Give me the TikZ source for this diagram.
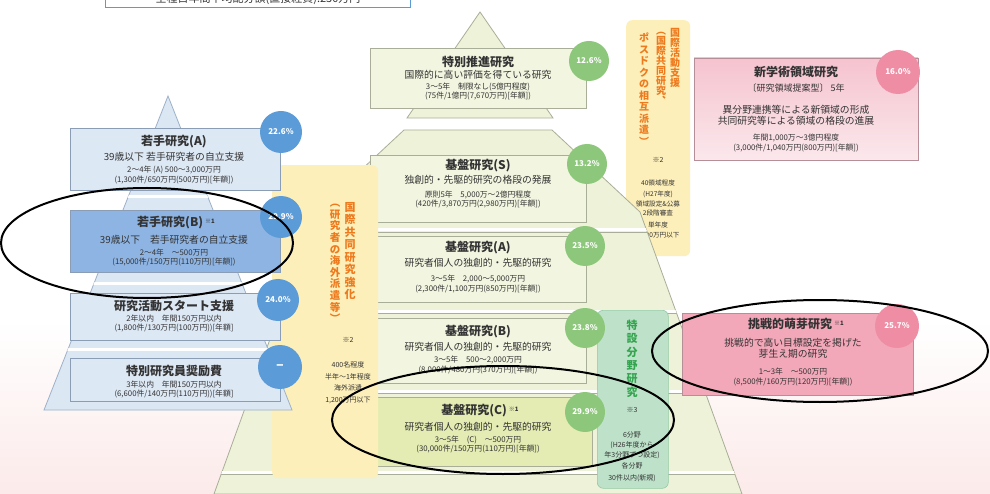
\documentclass[tikz,border=0pt]{standalone}
\usepackage{fontspec}
\newfontfamily\cjk{Noto Sans CJK JP}
\usetikzlibrary{shapes.geometric}
\definecolor{pyrL}{HTML}{DCE7F4}
\definecolor{pyrLd}{HTML}{9DB1C9}
\definecolor{boxL}{HTML}{DDE8F5}
\definecolor{boxLd}{HTML}{8A9DB5}
\definecolor{boxLB}{HTML}{8EB4E3}
\definecolor{pyrM}{HTML}{EEF2D8}
\definecolor{pyrMd}{HTML}{A9AE98}
\definecolor{boxM}{HTML}{F2F5DF}
\definecolor{boxMC}{HTML}{E4ECB3}
\definecolor{circB}{HTML}{5B9BD8}
\definecolor{circG}{HTML}{8DC77B}
\definecolor{circP}{HTML}{EE8DA4}
\definecolor{bandY}{HTML}{FDEFBA}
\definecolor{txtO}{HTML}{EE7A1E}
\definecolor{bandG}{HTML}{BDE2C9}
\definecolor{bandGd}{HTML}{93C9A5}
\definecolor{txtG}{HTML}{34A54F}
\definecolor{pinkA}{HTML}{F3A8B9}
\definecolor{pinkB1}{HTML}{F5C3CF}
\definecolor{pinkB2}{HTML}{FBE8EC}
\definecolor{pinkD}{HTML}{B58E98}
\definecolor{txtc}{HTML}{333333}
\definecolor{hdrB}{HTML}{5B9BD5}
\definecolor{bgP}{HTML}{FCEAEA}
\begin{document}
\begin{tikzpicture}[x=1pt,y=-1pt,
  every node/.style={inner sep=0pt},
  lbox/.style={draw=boxLd, line width=0.8, fill=boxL, anchor=north west},
  mbox/.style={draw=pyrMd, line width=0.8, fill=boxM, anchor=north west},
  ttl/.style={text=txtc, font=\cjk\bfseries\fontsize{12}{12}\selectfont},
  sub/.style={text=txtc, font=\cjk\fontsize{9.8}{10}\selectfont},
  det/.style={text=txtc, font=\cjk\fontsize{7.8}{8}\selectfont},
  sml/.style={text=txtc, font=\cjk\fontsize{7}{7}\selectfont},
  pc/.style={circle, minimum size=42, fill=#1, text=white, font=\cjk\bfseries\fontsize{8}{8}\selectfont},
  vt/.style={align=center, anchor=north},
  ell/.style={ellipse, draw=black, line width=2}]
\useasboundingbox (0,0) rectangle (990,494);
\fill[white] (0,0) rectangle (990,494);
\shade[top color=white, bottom color=bgP] (0,320) rectangle (990,494);

% header
\draw[hdrB, line width=1, fill=white] (105,-10) rectangle (410,8);
\node[text=txtc, font=\cjk\fontsize{11}{11}\selectfont] (hdr) at (258,-1) {全種目年間平均配分額(直接経費):230万円};

% international activity band (behind pyramid)
\node[fill=bandY, rounded corners=6, minimum width=64, minimum height=236, anchor=north west] (iband) at (626,20) {};
\node[vt, text=txtO, font=\cjk\bfseries\fontsize{10}{10}\selectfont] (iv1) at (675,28) {国\\際\\活\\動\\支\\援};
\node[vt, text=txtO, font=\cjk\bfseries\fontsize{10}{10}\selectfont] (iv2) at (661,32) {︵\\国\\際\\共\\同\\研\\究\\︑};
\node[vt, text=txtO, font=\cjk\bfseries\fontsize{10}{11.5}\selectfont] (iv3) at (644,33) {ポ\\ス\\ド\\ク\\の\\相\\互\\派\\遣\\︶};
\node[sml] (in0) at (658,160) {※2};
\node[font=\cjk\fontsize{6.6}{6.6}\selectfont, text=txtc] (in1) at (658,183) {40領域程度};
\node[font=\cjk\fontsize{6.6}{6.6}\selectfont, text=txtc] (in2) at (658,194) {(H27年度)};
\node[font=\cjk\fontsize{6.6}{6.6}\selectfont, text=txtc] (in3) at (658,204) {領域設定\&公募};
\node[font=\cjk\fontsize{6.6}{6.6}\selectfont, text=txtc] (in4) at (658,213) {2段階審査};
\node[font=\cjk\fontsize{6.6}{6.6}\selectfont, text=txtc] (in5) at (658,225) {単年度};
\node[font=\cjk\fontsize{6.6}{6.6}\selectfont, text=txtc] (in6) at (658,236) {1,500万円以下};

% main pyramid
\filldraw[fill=pyrM, draw=pyrMd, line width=0.8] (480,12) -- (553,118) -- (407,118) -- cycle;
\filldraw[fill=pyrM, draw=pyrMd, line width=0.8] (404,130) -- (552,130) -- (640,212) -- (742,494) -- (214,494) -- (316,212) -- cycle;
\begin{scope}
\clip (404,130) -- (552,130) -- (640,212) -- (742,494) -- (214,494) -- (316,212) -- cycle;
\draw[white, line width=3] (200,230) -- (760,230) (200,311) -- (760,311) (200,391) -- (760,391) (200,472) -- (760,472);
\draw[pyrMd, line width=0.6] (200,232) -- (760,232) (200,313) -- (760,313) (200,393) -- (760,393) (200,474) -- (760,474);
\end{scope}

% main boxes
\node[mbox, minimum width=216, minimum height=60] (mT) at (370,48) {};
\node[mbox, minimum width=216, minimum height=67] (mS) at (370,155) {};
\node[mbox, minimum width=216, minimum height=66] (mA) at (370,236) {};
\node[mbox, minimum width=216, minimum height=65] (mB) at (370,318) {};
\node[mbox, fill=boxMC, minimum width=224, minimum height=69] (mC) at (368,397) {};

\node[ttl] (mT1) at (478,62) {特別推進研究};
\node[sub] (mT2) at (478,75) {国際的に高い評価を得ている研究};
\node[det] (mT3) at (478,87) {3〜5年　制限なし(5億円程度)};
\node[det] (mT4) at (478,96) {(75件/1億円(7,670万円)[年額])};

\node[ttl] (mS1) at (478,166) {基盤研究(S)};
\node[sub] (mS2) at (478,180) {独創的・先駆的研究の格段の発展};
\node[det] (mS3) at (478,195) {原則5年　5,000万〜2億円程度};
\node[det] (mS4) at (478,204) {(420件/3,870万円(2,980万円)[年額])};

\node[ttl] (mA1) at (478,248) {基盤研究(A)};
\node[sub] (mA2) at (478,263) {研究者個人の独創的・先駆的研究};
\node[det] (mA3) at (478,279) {3〜5年　2,000〜5,000万円};
\node[det] (mA4) at (478,289) {(2,300件/1,100万円(850万円)[年額])};

\node[ttl] (mB1) at (478,332) {基盤研究(B)};
\node[sub] (mB2) at (478,347) {研究者個人の独創的・先駆的研究};
\node[det] (mB3) at (478,360) {3〜5年　500〜2,000万円};
\node[det] (mB4) at (478,370) {(8,000件/480万円(370万円)[年額])};

\node[ttl] (mC1) at (480,411) {基盤研究(C)\,\raisebox{3pt}{\fontsize{6}{6}\selectfont ※1}};
\node[sub] (mC2) at (478,427) {研究者個人の独創的・先駆的研究};
\node[det] (mC3) at (478,440) {3〜5年　(C)　〜500万円};
\node[det] (mC4) at (478,449) {(30,000件/150万円(110万円)[年額])};

% international joint research band
\node[fill=bandY, rounded corners=6, minimum width=106, minimum height=313, anchor=north west] (kband) at (272,165) {};
\node[vt, text=txtO, font=\cjk\bfseries\fontsize{11}{12.5}\selectfont] (kv1) at (350,202) {国\\際\\共\\同\\研\\究\\強\\化};
\node[vt, text=txtO, font=\cjk\bfseries\fontsize{10.5}{11.6}\selectfont] (kv2) at (335,204) {︵\\研\\究\\者\\の\\海\\外\\派\\遣\\等\\︶};
\node[sml] (kn0) at (348,340) {※2};
\node[sml] (kn1) at (348,365) {400名程度};
\node[sml] (kn2) at (348,377) {半年〜1年程度};
\node[sml] (kn3) at (348,388) {海外派遣};
\node[sml] (kn4) at (348,400) {1,200万円以下};

% left pyramid
\filldraw[fill=pyrL, draw=pyrLd, line width=0.8] (168,96) -- (292,410) -- (44,410) -- cycle;
\begin{scope}
\clip (168,96) -- (292,410) -- (44,410) -- cycle;
\draw[white, line width=3] (30,197) -- (310,197) (30,283) -- (310,283) (30,349) -- (310,349);
\end{scope}

% left boxes
\node[lbox, minimum width=210, minimum height=62] (lA) at (70,128) {};
\node[lbox, fill=boxLB, draw=boxLd, minimum width=210, minimum height=62] (lB) at (70,210) {};
\node[lbox, minimum width=210, minimum height=47] (lS) at (70,293) {};
\node[lbox, minimum width=210, minimum height=43] (lF) at (70,358) {};

\node[ttl] (lA1) at (174,142) {若手研究(A)};
\node[sub] (lA2) at (174,157) {39歳以下 若手研究者の自立支援};
\node[det] (lA3) at (174,170) {2〜4年 (A) 500〜3,000万円};
\node[det] (lA4) at (174,180) {(1,300件/650万円(500万円)[年額])};

\node[ttl] (lB1) at (176,223) {若手研究(B)\,\raisebox{3pt}{\fontsize{6}{6}\selectfont ※1}};
\node[sub] (lB2) at (174,240) {39歳以下　若手研究者の自立支援};
\node[det] (lB3) at (174,253) {2〜4年　〜500万円};
\node[det] (lB4) at (174,262) {(15,000件/150万円(110万円)[年額])};

\node[ttl] (lS1) at (174,306) {研究活動スタート支援};
\node[det] (lS2) at (174,319) {2年以内　年間150万円以内};
\node[det] (lS3) at (174,328) {(1,800件/130万円(100万円))[年額]};

\node[ttl] (lF1) at (174,371) {特別研究員奨励費};
\node[det] (lF2) at (174,385) {3年以内　年間150万円以内};
\node[det] (lF3) at (174,394) {(6,600件/140万円(110万円))[年額]};

% special field band
\node[fill=bandG, draw=bandGd, line width=0.6, rounded corners=6, minimum width=71, minimum height=178, anchor=north west] (gband) at (597,310) {};
\node[vt, text=txtG, font=\cjk\bfseries\fontsize{11}{13.3}\selectfont] (gv1) at (632,320) {特\\設\\分\\野\\研\\究};
\node[sml] (gn0) at (632,410) {※3};
\node[sml] (gn1) at (632,435) {6分野};
\node[sml] (gn2) at (632,445) {(H26年度から};
\node[sml] (gn3) at (632,455) {年3分野ずつ設定)};
\node[sml] (gn4) at (632,466) {各分野};
\node[sml] (gn5) at (632,478) {30件以内(新規)};

% shinkakujutsu box
\shade[top color=pinkB1, bottom color=pinkB2] (694,58) rectangle (918,160);
\node[draw=pinkD, line width=0.8, minimum width=224, minimum height=102, anchor=north west] (pS) at (694,58) {};
\node[ttl] (pS1) at (796,72) {新学術領域研究};
\node[text=txtc, font=\cjk\fontsize{9}{9}\selectfont] (pS2) at (796,88) {〔研究領域提案型〕 5年};
\node[sub] (pS3) at (796,110) {異分野連携等による新領域の形成};
\node[sub] (pS4) at (796,121) {共同研究等による領域の格段の進展};
\node[det] (pS5) at (796,138) {年間1,000万〜3億円程度};
\node[det] (pS6) at (796,148) {(3,000件/1,040万円(800万円)[年額])};

% challenging box
\node[fill=pinkA, draw=pinkD, line width=0.8, minimum width=231, minimum height=82, anchor=north west] (pC) at (682,313) {};
\node[ttl] (pC1) at (796,324) {挑戦的萌芽研究\,\raisebox{3pt}{\fontsize{6}{6}\selectfont ※1}};
\node[sub] (pC2) at (793,343) {挑戦的で高い目標設定を掲げた};
\node[sub] (pC3) at (793,354) {芽生え期の研究};
\node[det] (pC4) at (793,372) {1〜3年　〜500万円};
\node[det] (pC5) at (793,382) {(8,500件/160万円(120万円)[年額])};

% percentage circles
\node[pc=circB] (cA) at (281,132) {22.6\%};
\node[pc=circB] (cB) at (281,217) {29.9\%};
\node[pc=circB] (cS) at (278,300) {24.0\%};
\node[pc=circB, minimum size=44, font=\cjk\bfseries\fontsize{14}{14}\selectfont] (cF) at (280,367) {–};
\node[pc=circG, minimum size=40] (cT) at (589,61) {12.6\%};
\node[pc=circG, minimum size=40] (cMS) at (587,164) {13.2\%};
\node[pc=circG, minimum size=40] (cMA) at (585,246) {23.5\%};
\node[pc=circG, minimum size=40] (cMB) at (585,328) {23.8\%};
\node[pc=circG, minimum size=40] (cMC) at (585,412) {29.9\%};
\node[pc=circP, minimum size=44] (cP1) at (898,72) {16.0\%};
\node[pc=circP, minimum size=44] (cP2) at (897,326) {25.7\%};

% highlight ellipses
\node[ell, minimum width=292, minimum height=110] (eB) at (147,243) {};
\node[ell, minimum width=342, minimum height=108] (eC) at (503,420) {};
\node[ell, minimum width=336, minimum height=102] (eP) at (820,351) {};
\end{tikzpicture}
\end{document}
